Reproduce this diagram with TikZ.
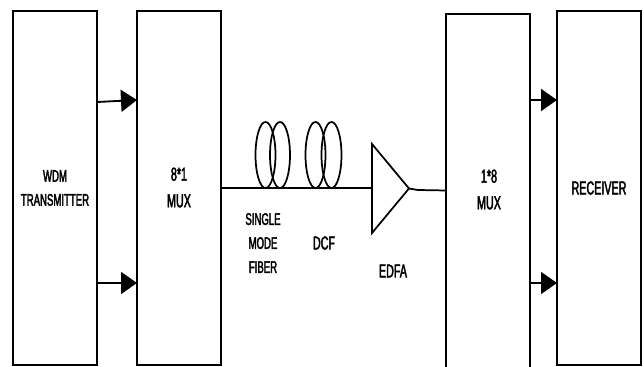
\documentclass[tikz,border=0pt]{standalone}
\usepackage{fontspec}
\setmainfont[FakeStretch=0.575,FakeBold=2.2]{Liberation Sans}
\usetikzlibrary{arrows.meta}
\begin{document}
\begin{tikzpicture}[x=0.75pt,y=-0.75pt,
  blockbox/.style={draw,line width=1.4pt,minimum width=63pt,inner sep=0pt,outer sep=0pt,anchor=north west},
  lbl/.style={font=\fontsize{12.5}{18}\selectfont,align=center,inner sep=0pt,text=black},
  lblbig/.style={font=\fontsize{14}{20}\selectfont,align=center,inner sep=0pt,text=black},
  sig/.style={line width=1.4pt,-{Triangle[length=12pt,width=16.5pt]}},
  fib/.style={line width=1.3pt}]
\useasboundingbox (0,0) rectangle (644,367);
\clip (0,0) rectangle (644,367);
\node[blockbox,minimum height=265.5pt] (tx) at (13,11) {};
\node[blockbox,minimum height=265.5pt] (mux) at (137,11) {};
\node[blockbox,minimum height=275pt] (demux) at (446,14) {};
\node[blockbox,minimum height=265.5pt] (rx) at (557,11) {};
\node[lbl] (txl) at (55,188) {WDM\\TRANSMITTER};
\node[lblbig] (muxl) at (179,187.5) {8*1\\MUX};
\node[lblbig] (demuxl) at (489,189.5) {1*8\\MUX};
\node[lblbig] (rxl) at (599,188) {RECEIVER};
\node[lbl] (smf) at (263,243) {SINGLE\\MODE\\FIBER};
\node[lblbig] (dcf) at (324,243) {DCF};
\node[lblbig] (edfal) at (393,271) {EDFA};
% signal arrows
\coordinate (a1) at (tx.east |- 0,102);
\coordinate (b1) at (mux.west |- 0,100);
\coordinate (a2) at (tx.east |- 0,283);
\coordinate (b2) at (mux.west |- 0,283);
\coordinate (c1) at (demux.east |- 0,100);
\coordinate (d1) at (rx.west |- 0,100);
\coordinate (c2) at (demux.east |- 0,283);
\coordinate (d2) at (rx.west |- 0,283);
\draw[sig] (a1) -- (b1);
\draw[sig] (a2) -- (b2);
\draw[sig] (c1) -- (d1);
\draw[sig] (c2) -- (d2);
% amplifier
\coordinate (ampT) at (372,144);
\coordinate (ampB) at (372,233);
\coordinate (ampO) at (409,188.5);
\coordinate (fibI) at (mux.east |- 0,188);
\coordinate (fibA) at (ampT |- 0,188);
\coordinate (fibO) at (demux.west |- 0,190.5);
\draw[fib,line join=miter] (ampT) -- (ampO) -- (ampB) -- cycle;
\draw[fib] (fibI) -- (fibA);
\draw[fib] (ampO) -- (418,190) -- (fibO);
% fibre coils
\draw[fib] (265.5,155) ellipse [x radius=10,y radius=33];
\draw[fib] (280,155) ellipse [x radius=10,y radius=33];
\draw[fib] (315.5,155) ellipse [x radius=10,y radius=33];
\draw[fib] (331.5,155) ellipse [x radius=10,y radius=33];
\end{tikzpicture}
\end{document}
